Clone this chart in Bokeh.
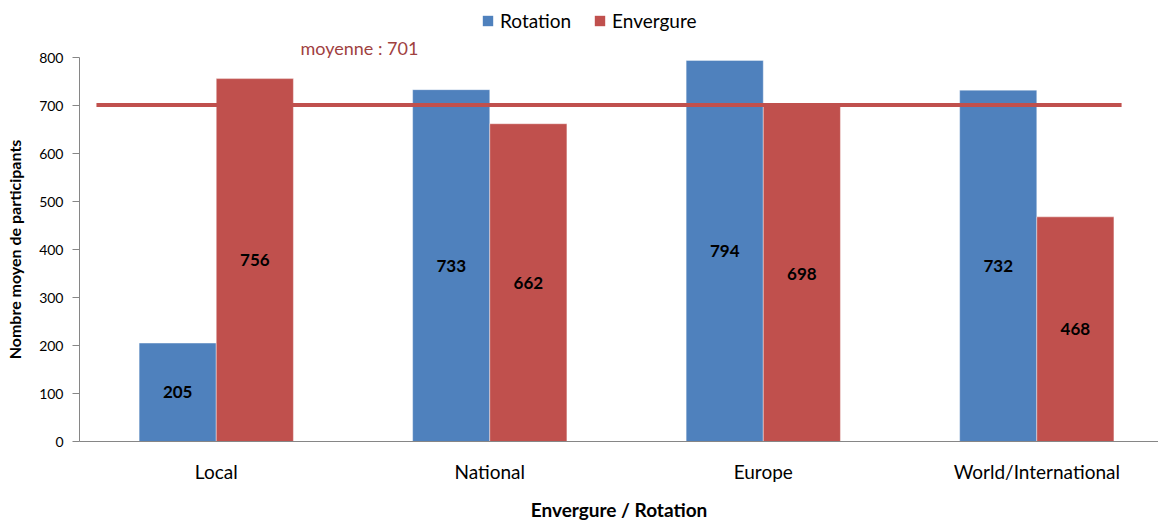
from bokeh.plotting import figure
from bokeh.layouts import column
from bokeh.models import (ColumnDataSource, Range1d, LinearAxis, FixedTicker,
                          SingleIntervalTicker, Legend, LegendItem, LabelSet)
from bokeh.core.properties import value
from bokeh.embed import file_html
from bokeh.resources import INLINE

categories = ["Local", "National", "Europe", "World/International"]
rotation = [205, 733, 794, 732]
envergure = [756, 662, 698, 468]
mean_value = 701
mean_label = "moyenne : 701"

FONT = "Lato"
BLUE = "#4F81BD"
RED = "#C0504D"
BAR_W = 0.282

idx = list(range(len(categories)))
src = ColumnDataSource(dict(
    x_rot=[i - BAR_W / 2 for i in idx],
    x_env=[i + BAR_W / 2 for i in idx],
    rot=rotation, env=envergure,
    rot_mid=[v / 2 for v in rotation], env_mid=[v / 2 for v in envergure],
    rot_txt=[str(v) for v in rotation], env_txt=[str(v) for v in envergure],
))

x_range = Range1d(-0.5, 3.445)

# ---- top strip: legend ----
TOP_H = 36
top = figure(width=1158, height=TOP_H, output_backend="svg", toolbar_location=None,
             x_range=x_range, y_range=Range1d(0, 10),
             x_axis_type=None, y_axis_type=None,
             min_border_left=79, min_border_right=0, min_border_top=0, min_border_bottom=0)
top.outline_line_color = None
top.grid.grid_line_color = None

# zero-height proxies of the two series, used only as legend keys
d1 = top.vbar(x="x_rot", top=0, bottom=0, width=BAR_W, source=src,
              fill_color=BLUE, line_color=None)
d2 = top.vbar(x="x_env", top=0, bottom=0, width=BAR_W, source=src,
              fill_color=RED, line_color=None)

legend = Legend(items=[LegendItem(label="Rotation", renderers=[d1]),
                       LegendItem(label="Envergure", renderers=[d2])],
                orientation="horizontal", location=(402, TOP_H - 32))
legend.label_text_font = FONT
legend.label_text_font_size = "19px"
legend.label_text_color = "black"
legend.glyph_width = 13
legend.glyph_height = 13
legend.spacing = 22
legend.label_standoff = 6
legend.border_line_color = None
legend.background_fill_alpha = 0
legend.padding = 0
legend.margin = 0
top.add_layout(legend, "center")

# ---- main chart ----
p = figure(width=1158, height=523 - TOP_H, output_backend="svg", toolbar_location=None,
           x_range=x_range, y_range=Range1d(0, 800),
           x_axis_type=None, y_axis_type=None,
           min_border_left=79, min_border_right=0, min_border_top=0, min_border_bottom=82)
p.outline_line_color = None
p.background_fill_color = "white"

p.title.text = mean_label
p.title.text_font = FONT
p.title.text_font_size = "18px"
p.title.text_font_style = "normal"
p.title.text_color = "#A0413F"
p.title.align = "left"
p.title.offset = 221
p.title.standoff = -3

yaxis = LinearAxis(ticker=SingleIntervalTicker(interval=100),
                   axis_label="Nombre moyen de participants")
yaxis.axis_line_color = "#868686"
yaxis.major_tick_line_color = "#868686"
yaxis.major_tick_out = 7
yaxis.major_tick_in = 0
yaxis.minor_tick_line_color = None
yaxis.major_label_text_font = FONT
yaxis.major_label_text_font_size = "14px"
yaxis.major_label_text_color = "black"
yaxis.major_label_standoff = 9
yaxis.axis_label_text_font = FONT
yaxis.axis_label_text_font_size = "16px"
yaxis.axis_label_text_font_style = "bold"
yaxis.axis_label_text_color = "black"
yaxis.axis_label_standoff = 12
p.add_layout(yaxis, "left")

xaxis = LinearAxis(ticker=FixedTicker(ticks=idx),
                   major_label_overrides={i: c for i, c in zip(idx, categories)},
                   axis_label="Envergure / Rotation")
xaxis.axis_line_color = "#868686"
xaxis.major_tick_line_color = None
xaxis.minor_tick_line_color = None
xaxis.major_tick_out = 0
xaxis.major_label_text_font = FONT
xaxis.major_label_text_font_size = "19px"
xaxis.major_label_text_color = "black"
xaxis.major_label_standoff = 18
xaxis.axis_label_text_font = FONT
xaxis.axis_label_text_font_size = "19px"
xaxis.axis_label_text_font_style = "bold"
xaxis.axis_label_text_color = "black"
xaxis.axis_label_standoff = 12
p.add_layout(xaxis, "below")

p.ygrid.ticker = SingleIntervalTicker(interval=100)
p.ygrid.grid_line_color = "#9a9a9a"
p.xgrid.grid_line_color = None

p.vbar(x="x_rot", top="rot", width=BAR_W, source=src, fill_color=BLUE,
       line_color="white", line_alpha=0.4, line_width=1)
p.vbar(x="x_env", top="env", width=BAR_W, source=src, fill_color=RED,
       line_color="white", line_alpha=0.4, line_width=1)

p.line(x=[-0.438, 3.31], y=[mean_value, mean_value], line_color=RED, line_width=4)

for xcol, ycol, tcol in (("x_rot", "rot_mid", "rot_txt"), ("x_env", "env_mid", "env_txt")):
    p.add_layout(LabelSet(x=xcol, y=ycol, text=tcol, source=src, text_align="center",
                          text_baseline="middle", text_font=value(FONT),
                          text_font_size=value("17px"),
                          text_font_style=value("bold"), text_color=value("black")))

layout = column(top, p, spacing=0)
open("out.html", "w").write(file_html(layout, INLINE))
